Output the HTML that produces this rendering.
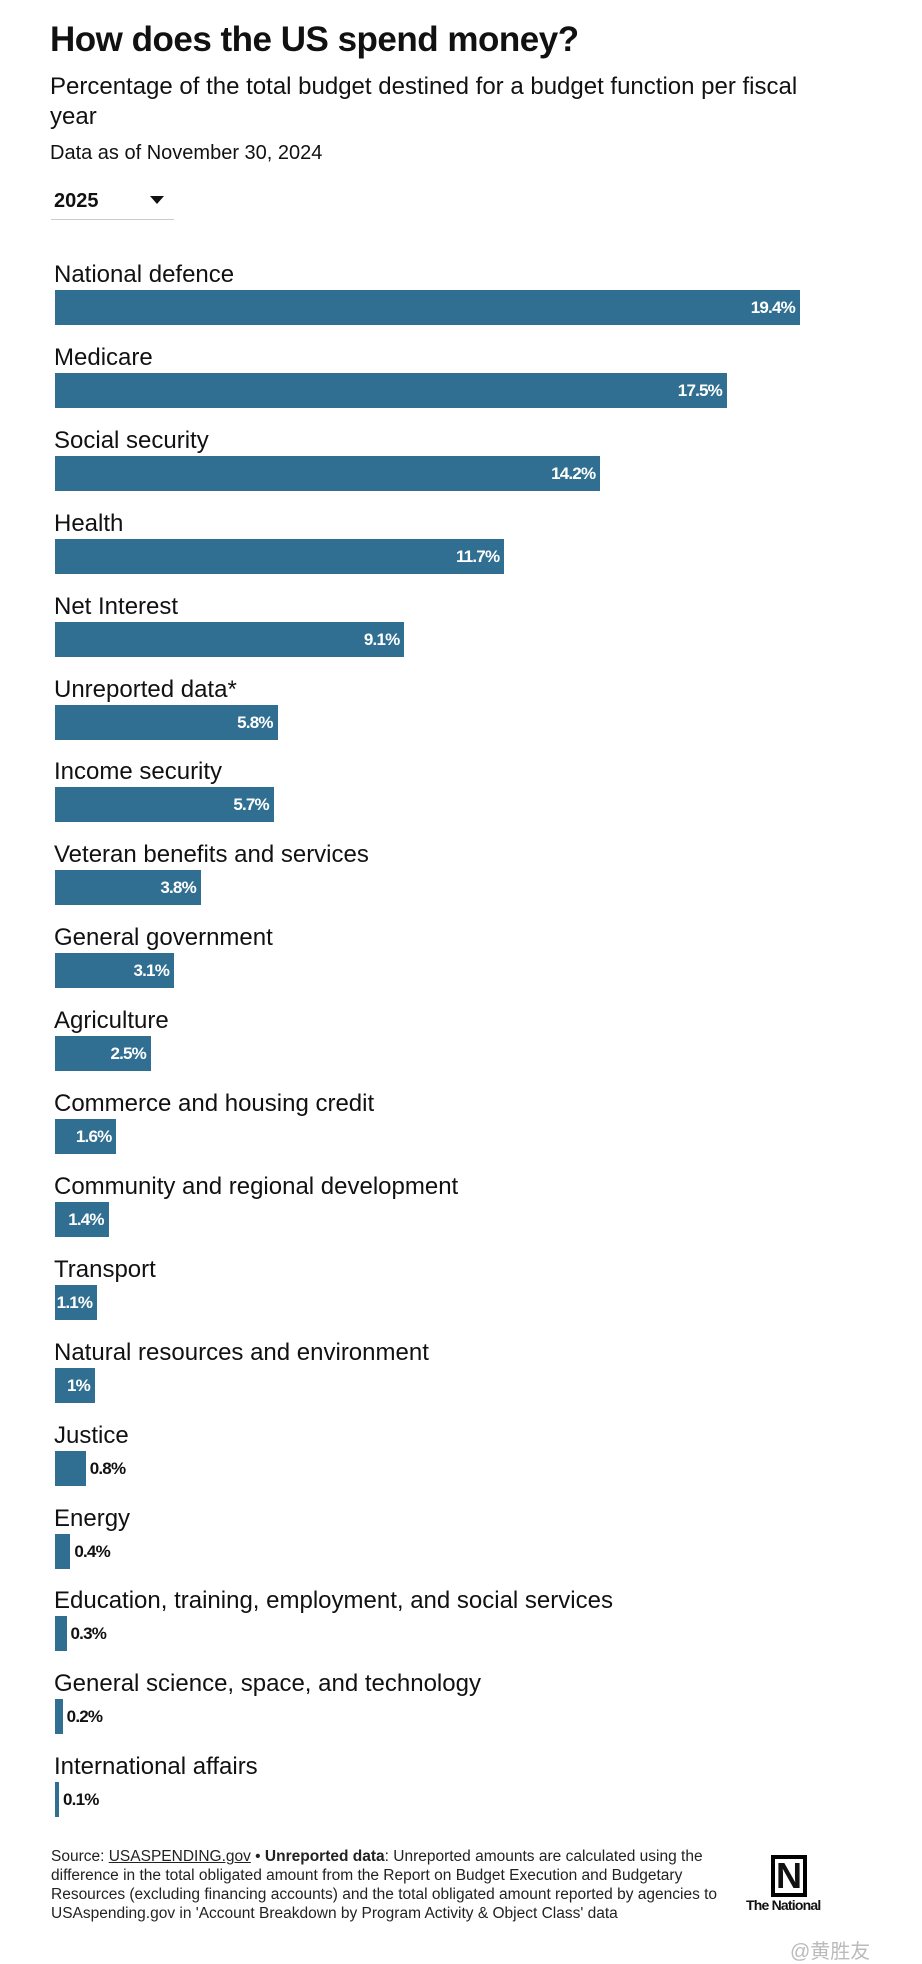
<!DOCTYPE html>
<html><head><meta charset="utf-8"><style>
body{margin:0;width:922px;height:1961px;background:#fff;position:relative;font-family:"Liberation Sans",sans-serif;color:#111;overflow:hidden}
.a{position:absolute;white-space:nowrap}
.lab{position:absolute;left:54px;font-size:24px;line-height:28px;color:#111}
.bar{position:absolute;left:55px;height:35px;background:#306f91}
.v{position:absolute;font-size:17px;font-weight:bold;line-height:35px;letter-spacing:-0.8px}
.in{color:#fff;text-align:right;right:5px;top:0}
.out{color:#111}
</style></head><body>
<div class="a" style="left:50px;top:20px;font-size:35px;font-weight:bold;letter-spacing:-0.5px">How does the US spend money?</div>
<div class="a" style="left:50px;top:72px;font-size:24px;line-height:30px;white-space:normal;width:780px">Percentage of the total budget destined for a budget function per fiscal year</div>
<div class="a" style="left:50px;top:142px;font-size:20px">Data as of November 30, 2024</div>
<div class="a" style="left:54px;top:190px;font-size:20px;font-weight:bold">2025</div>
<div class="a" style="left:150px;top:196px;width:0;height:0;border-left:7px solid transparent;border-right:7px solid transparent;border-top:8px solid #111"></div>
<div class="a" style="left:51px;top:219px;width:123px;height:1px;background:#ccc"></div>
<div id="c"></div>
<div class="a" style="left:51px;top:1847px;font-size:15.5px;line-height:19px;color:#222">Source: <u>USASPENDING.gov</u> • <b>Unreported data</b>: Unreported amounts are calculated using the<br>difference in the total obligated amount from the Report on Budget Execution and Budgetary<br>Resources (excluding financing accounts) and the total obligated amount reported by agencies to<br>USAspending.gov in 'Account Breakdown by Program Activity &amp; Object Class' data</div>
<div class="a" style="left:771px;top:1855px;width:36px;height:42px;border:4px solid #000;box-sizing:border-box;font-weight:bold;font-size:36px;line-height:34px;text-align:center">N</div>
<div class="a" style="left:746px;top:1897px;font-size:14px;font-weight:bold;letter-spacing:-0.8px">The National</div>
<div class="a" style="left:790px;top:1935px;font-size:20px;color:#bbb;font-family:'Liberation Sans','Noto Sans CJK SC',sans-serif">@黄胜友</div>
<script>
var d=[["National defence",19.4],["Medicare",17.5],["Social security",14.2],["Health",11.7],["Net Interest",9.1],["Unreported data*",5.8],["Income security",5.7],["Veteran benefits and services",3.8],["General government",3.1],["Agriculture",2.5],["Commerce and housing credit",1.6],["Community and regional development",1.4],["Transport",1.1],["Natural resources and environment",1],["Justice",0.8],["Energy",0.4],["Education, training, employment, and social services",0.3],["General science, space, and technology",0.2],["International affairs",0.1]];
var h="";
d.forEach(function(r,i){var t=290+82.9*i;var w=Math.max(r[1]*38.4,4);
if(r[1]>=1&&r[1]<2)w=Math.max(w,40);
h+='<div class="lab" style="top:'+(t-29)+'px">'+r[0]+'</div>';
var lbl=r[1]+'%';
if(r[1]>=1){h+='<div class="bar" style="top:'+t+'px;width:'+w+'px"><div class="v in">'+lbl+'</div></div>';}
else{h+='<div class="bar" style="top:'+t+'px;width:'+w+'px"></div><div class="v out" style="top:'+t+'px;left:'+(55+w+4)+'px">'+lbl+'</div>';}
});
document.getElementById("c").innerHTML=h;
</script>
</body></html>
